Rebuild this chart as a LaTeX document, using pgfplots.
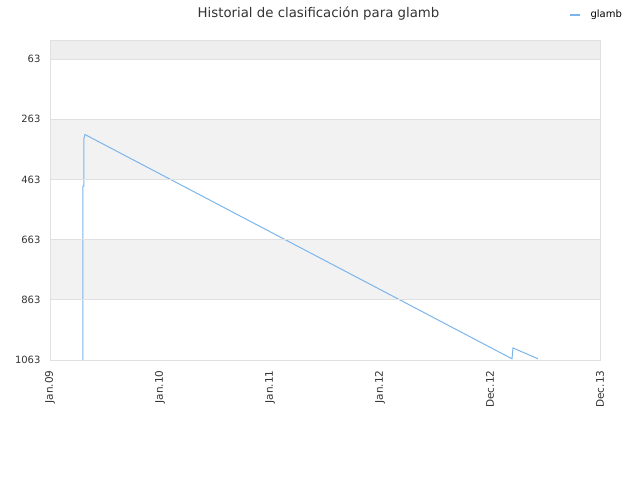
\documentclass[border=0pt]{standalone}
\usepackage{pgfplots}
\pgfplotsset{compat=1.18}
\usepackage{fontspec}
\setmainfont{DejaVu Sans}
\definecolor{serie}{HTML}{7CB5EC}
\definecolor{bandA}{HTML}{F2F2F2}
\definecolor{bandTop}{HTML}{EEEEEE}
\definecolor{rejilla}{HTML}{E0E0E0}
\definecolor{texto}{HTML}{333333}
\begin{document}
\begin{tikzpicture}
\path[use as bounding box] (0pt,0pt) rectangle (640pt,480pt);
\node[text=texto,font=\fontsize{13.3}{15}\selectfont] at (318.5pt,466.5pt) {Historial de clasificación para glamb};
\draw[serie,line width=1.2pt] (570pt,465pt) -- (580pt,465pt);
\node[anchor=west,font=\fontsize{10}{12}\selectfont] at (587pt,465.5pt) {glamb};
\begin{axis}[
at={(50pt,120pt)},anchor=south west,
scale only axis,width=550pt,height=320pt,
xmin=0,xmax=5,
ymin=0,ymax=1063,y dir=reverse,
xtick={0,1,2,3,4,5},
xticklabels={Jan.09,Jan.10,Jan.11,Jan.12,Dec.12,Dec.13},
ytick={63,263,463,663,863,1063},
ymajorgrids,
grid style={rejilla,line width=0.6pt},
axis line style={draw=rejilla,line width=0.7pt},
major tick length=0pt,
/pgf/number format/assume math mode=true,
/pgf/number format/1000 sep={},
ticklabel style={text=texto,font=\fontsize{10}{12}\selectfont},
x tick label style={rotate=90,anchor=east,font=\fontsize{10.5}{12}\selectfont},
xticklabel shift=7pt,
yticklabel shift=6pt,
axis on top,
]
\fill[bandTop] (axis cs:0,0) rectangle (axis cs:5,63);
\fill[bandA] (axis cs:0,263) rectangle (axis cs:5,463);
\fill[bandA] (axis cs:0,663) rectangle (axis cs:5,863);
\addplot[serie,line width=1pt,mark=none] coordinates {
  (0.300,1063) (0.300,485) (0.309,485) (0.309,326) (0.318,314)
  (4.200,1059) (4.209,1023) (4.436,1059)
};
\end{axis}
\end{tikzpicture}
\end{document}
